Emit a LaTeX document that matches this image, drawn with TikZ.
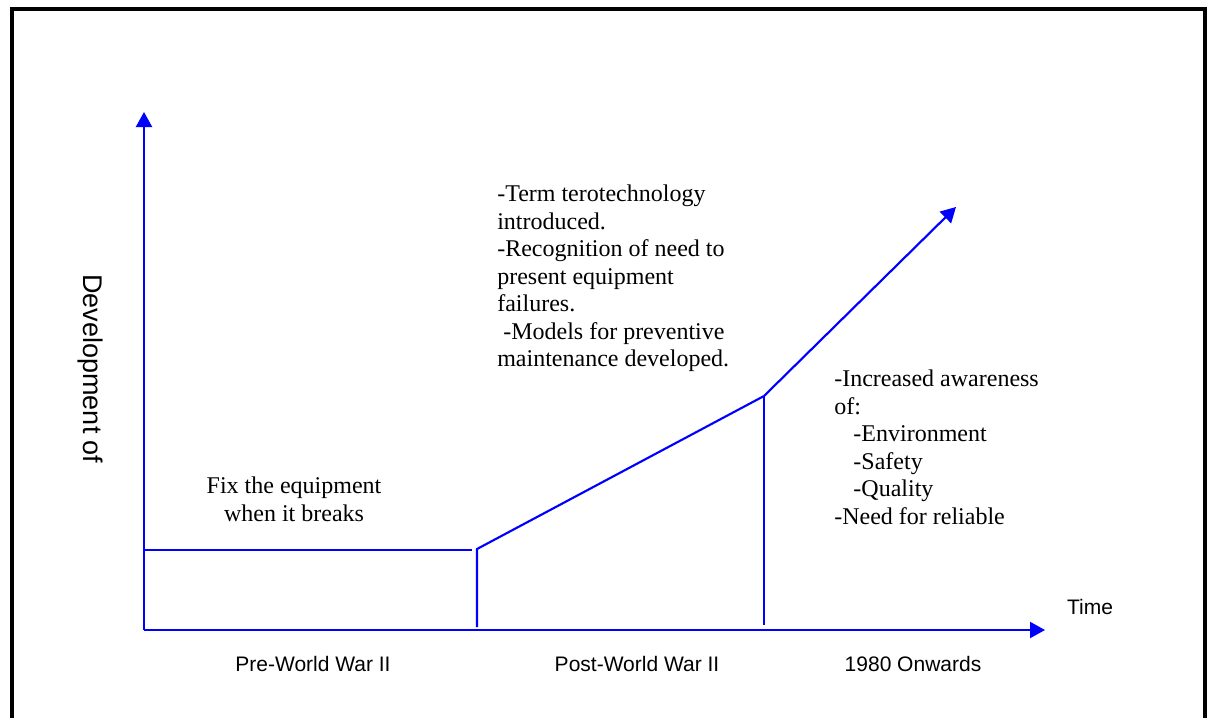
\documentclass[tikz,border=0pt]{standalone}
\usepackage{fontspec}
\setmainfont{Liberation Serif}
\setsansfont{Liberation Sans}
\usetikzlibrary{arrows.meta}
\definecolor{lineblue}{RGB}{0,0,255}
\tikzset{
  px/.style={x=0.75pt,y=-0.75pt},
  bluel/.style={draw=lineblue,line width=1.6pt},
  bluearrow/.style={bluel,-{Triangle[length=11.25pt,width=12pt]}},
  serifnote/.style={inner sep=0pt,font=\fontsize{18}{20.6}\selectfont,align=left},
  sanslabel/.style={inner sep=0pt,font=\sffamily\fontsize{15.75}{18}\selectfont},
}
\begin{document}
\begin{tikzpicture}[px]
\useasboundingbox (0,0) rectangle (1212,717);
\draw[black,line width=3pt] (12,9.5) rectangle (1205,760);
% coordinates
\coordinate (O) at (144,630);
\coordinate (ytip) at (144,112);
\coordinate (xtip) at (1045,630);
\coordinate (flatL) at (144,550);
\coordinate (flatR) at (472,550);
\coordinate (A) at (477,549);
\coordinate (Abot) at (477,627);
\coordinate (B) at (764,396);
\coordinate (Bbot) at (764,625);
\coordinate (C) at (956,207);
% axes
\draw[bluearrow] (O) -- (ytip);
\draw[bluearrow] (O) -- (xtip);
% curve
\draw[bluel] (flatL) -- (flatR);
\draw[bluel] (Abot) -- (A) -- (B);
\draw[bluel] (Bbot) -- (B);
\draw[bluearrow] (B) -- (C);
% texts
\node[sanslabel,font=\sffamily\fontsize{20.25}{22}\selectfont,rotate=-90,anchor=base] (ylab) at (83,369) {Development of};
\node[sanslabel,anchor=base] (pre) at (313,671) {Pre-World War II};
\node[sanslabel,anchor=base] (post) at (637,671) {Post-World War II};
\node[sanslabel,anchor=base] (on) at (913,671) {1980 Onwards};
\node[sanslabel,anchor=base] (time) at (1090,614) {Time};
\node[serifnote,align=center,anchor=north] (fix) at (294,477) {Fix the equipment\\when it breaks};
\node[serifnote,anchor=north west] (post1) at (497,185) {-Term terotechnology\\introduced.\\-Recognition of need to\\present equipment\\failures.\\\hspace{0.25em}-Models for preventive\\maintenance developed.};
\node[serifnote,anchor=north west] (on1) at (834,370) {-Increased awareness\\of:\\\hspace{0.8em}-Environment\\\hspace{0.8em}-Safety\\\hspace{0.8em}-Quality\\-Need for reliable};
\end{tikzpicture}
\end{document}
